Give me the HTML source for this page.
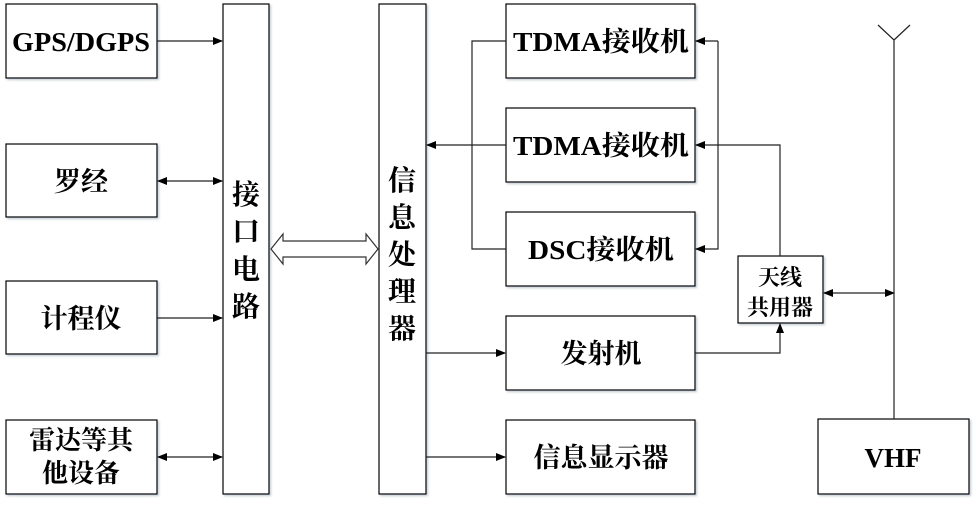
<!DOCTYPE html>
<html><head><meta charset="utf-8"><style>
body{margin:0;background:#fff;width:976px;height:507px;overflow:hidden}
svg{display:block}
text{font-family:"Liberation Serif","Times New Roman","Noto Serif CJK SC",serif;font-weight:bold;fill:#000}
.b{fill:#fff;stroke:#000;stroke-width:1.2;filter:url(#sh)}
.l{stroke:#222;stroke-width:1.2;fill:none}
</style></head><body>
<svg width="976" height="507" viewBox="0 0 976 507">
<defs>
<filter id="sh" x="-5%" y="-5%" width="115%" height="115%"><feDropShadow dx="1.5" dy="1.5" stdDeviation="1" flood-color="#9ab" flood-opacity="0.6"/></filter>
<marker id="a" markerWidth="10" markerHeight="8" refX="9" refY="4" orient="auto-start-reverse" markerUnits="userSpaceOnUse"><path d="M0,0 L10,4 L0,8 Z" fill="#000"/></marker>
</defs>
<rect class="b" x="6" y="4" width="151" height="74"/>
<rect class="b" x="6" y="144" width="151" height="73"/>
<rect class="b" x="6" y="281" width="151" height="73"/>
<rect class="b" x="6" y="420" width="151" height="74"/>
<rect class="b" x="223" y="4" width="46" height="490"/>
<rect class="b" x="379" y="4" width="47" height="490"/>
<rect class="b" x="506" y="4" width="189" height="74"/>
<rect class="b" x="506" y="108" width="189" height="74"/>
<rect class="b" x="506" y="212" width="189" height="74"/>
<rect class="b" x="506" y="316" width="189" height="74"/>
<rect class="b" x="506" y="420" width="189" height="74"/>
<rect class="b" x="738" y="256" width="85" height="67"/>
<rect class="b" x="818" y="419" width="151" height="75"/>

<g font-size="27" text-anchor="middle">
<text x="81" y="51" textLength="138" lengthAdjust="spacingAndGlyphs">GPS/DGPS</text>
<text x="81" y="191">罗经</text>
<text x="81" y="328">计程仪</text>
<text x="81" y="449" font-size="26">雷达等其</text>
<text x="81" y="482" font-size="26">他设备</text>
<text x="601" y="51" textLength="176" lengthAdjust="spacingAndGlyphs">TDMA接收机</text>
<text x="601" y="155" textLength="176" lengthAdjust="spacingAndGlyphs">TDMA接收机</text>
<text x="601" y="259" textLength="146" lengthAdjust="spacingAndGlyphs">DSC接收机</text>
<text x="601" y="363">发射机</text>
<text x="601" y="467">信息显示器</text>
<text x="893" y="467">VHF</text>
</g>
<g font-size="28" text-anchor="middle">
<text x="246" y="204">接</text><text x="246" y="241">口</text><text x="246" y="279">电</text><text x="246" y="316">路</text>
<text x="402" y="190">信</text><text x="402" y="227">息</text><text x="402" y="264">处</text><text x="402" y="301">理</text><text x="402" y="338">器</text>
</g>
<g font-size="22" text-anchor="middle">
<text x="780" y="285">天线</text><text x="780" y="315">共用器</text>
</g>

<path class="l" d="M157,41 H222" marker-end="url(#a)"/>
<path class="l" d="M158,181 H222" marker-start="url(#a)" marker-end="url(#a)"/>
<path class="l" d="M157,318 H222" marker-end="url(#a)"/>
<path class="l" d="M158,457 H222" marker-start="url(#a)" marker-end="url(#a)"/>
<path d="M271,249 L283,234 V241 H366 V234 L378,249 L366,264 V257 H283 V264 Z" fill="#fff" stroke="#333" stroke-width="1.2"/>
<path class="l" d="M506,41 H472 V249 H506"/>
<path class="l" d="M506,145 H427" marker-end="url(#a)"/>
<path class="l" d="M426,353 H505" marker-end="url(#a)"/>
<path class="l" d="M426,457 H505" marker-end="url(#a)"/>
<path class="l" d="M718,41 H696" marker-end="url(#a)"/>
<path class="l" d="M718,41 V249 H696" marker-end="url(#a)"/>
<path class="l" d="M780,256 V145 H696" marker-end="url(#a)"/>
<path class="l" d="M695,353 H780 V324" marker-end="url(#a)"/>
<path class="l" d="M824,293 H894" marker-start="url(#a)" marker-end="url(#a)"/>
<path class="l" d="M894,419 V40 M878,25 L894,40 L910,25"/>
</svg>
</body></html>
